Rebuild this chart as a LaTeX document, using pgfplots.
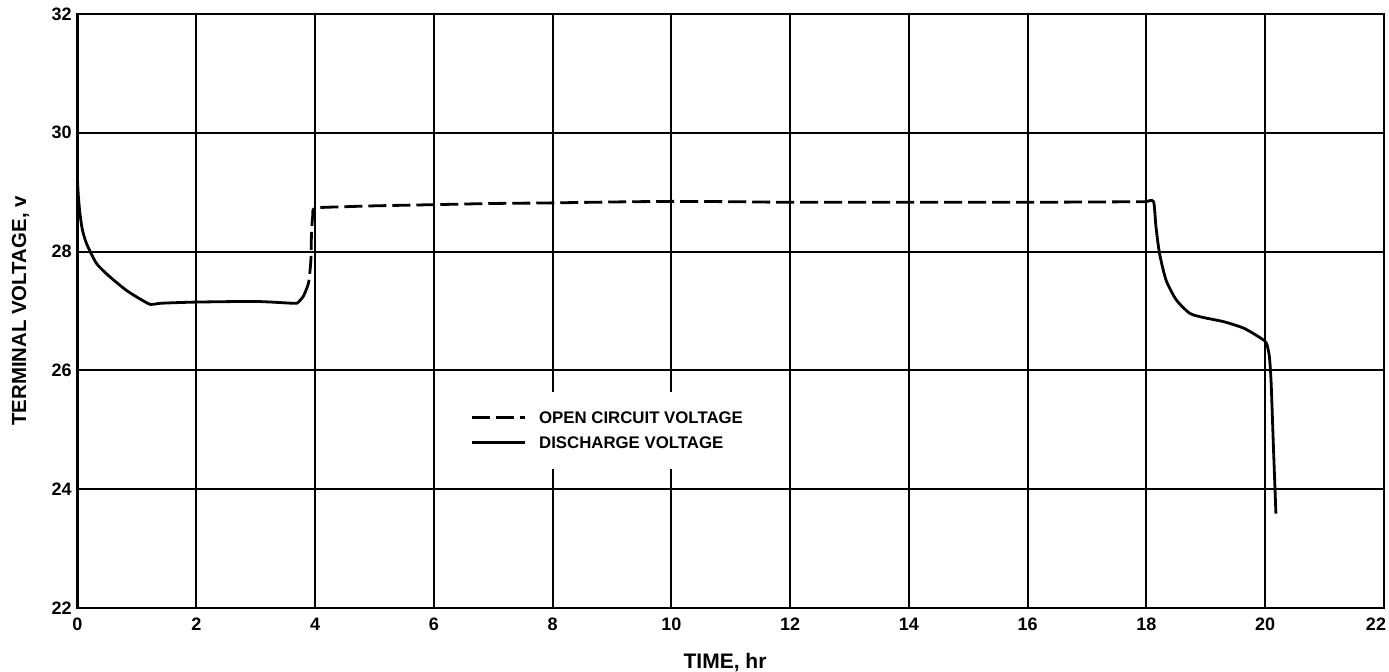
\documentclass[border=0pt]{standalone}
\usepackage{fontspec}
\setmainfont{Liberation Sans}
\usepackage{pgfplots}
\pgfplotsset{compat=1.18}
\begin{document}
\begin{tikzpicture}
\begin{axis}[
  scale only axis,
  width=653.25pt, height=297pt,
  xmin=0, xmax=22, ymin=22, ymax=32,
  xtick={0,2,...,20}, ytick={22,24,...,32},
  extra x ticks={22}, extra x tick labels={22},
  extra x tick style={grid=none, xticklabel style={xshift=-4pt}},
  grid=major,
  major grid style={black, line width=1pt},
  axis line style={black, line width=1.4pt},
  major tick length=0pt,
  /pgf/number format/assume math mode=true,
  tick label style={font=\fontsize{9}{10}\selectfont\bfseries, inner sep=0pt},
  xticklabel style={anchor=center, yshift=-8pt},
  yticklabel style={anchor=east, xshift=-2.75pt},
  every axis x label/.style={at={(axis description cs:0.4956,-0.0926)}, anchor=center, font=\fontsize{10.5}{12}\selectfont\bfseries},
  every axis y label/.style={at={(axis description cs:-0.0436,0.5)}, rotate=90, anchor=center, font=\fontsize{10.2}{12}\selectfont\bfseries},
  xlabel={TIME, hr},
  ylabel={TERMINAL VOLTAGE, v},
  legend style={draw=none, fill=white, at={(axis description cs:0.405,0.299)}, anchor=center,
    inner xsep=12pt, inner ysep=10pt,
    font=\fontsize{8.4}{9}\selectfont\bfseries,
    nodes={inner sep=0pt, text height=6pt, text depth=0pt},
    row sep=6.5pt,
    /tikz/every odd column/.append style={column sep=6.5pt}},
  legend cell align=left,
  legend image code/.code={\draw[#1] (0pt,0pt) -- (26.5pt,0pt);},
]
\addplot[black, line width=1.4pt, dash pattern=on 9pt off 3pt, smooth, tension=0.4] coordinates {
(3.8,27.24) (3.89,27.47) (3.93,27.86) (3.94,28.31) (3.96,28.59) (4.0,28.73) (4.5,28.755) (5,28.77) (6,28.79) (7,28.81) (8,28.82) (9,28.835) (10,28.845) (11,28.84) (12,28.83) (14,28.83) (16,28.83) (18,28.84)
};
\addplot[black, line width=1.4pt, smooth, tension=0.4] coordinates {
(0,29.21) (0.01,29.0) (0.02,28.87) (0.04,28.65) (0.08,28.38) (0.15,28.14) (0.32,27.80) (0.54,27.58) (0.82,27.35) (1.04,27.21) (1.23,27.11) (1.4,27.13) (2.0,27.15) (3.0,27.16) (3.63,27.13) (3.71,27.14) (3.8,27.24)
};
\addplot[black, line width=1.4pt, smooth, tension=0.4, forget plot] coordinates {
(18.0,28.84) (18.12,28.84) (18.16,28.42) (18.22,27.97) (18.33,27.52) (18.50,27.19) (18.73,26.96) (18.96,26.89) (19.30,26.82) (19.64,26.71) (19.93,26.54) (20.02,26.46) (20.07,26.23) (20.10,25.78) (20.14,24.66) (20.18,23.59)
};
\legend{OPEN CIRCUIT VOLTAGE, DISCHARGE VOLTAGE}
\end{axis}
\pgfresetboundingbox
\path (-38.75pt,-32pt) rectangle (655.75pt,304pt);
\end{tikzpicture}
\end{document}
